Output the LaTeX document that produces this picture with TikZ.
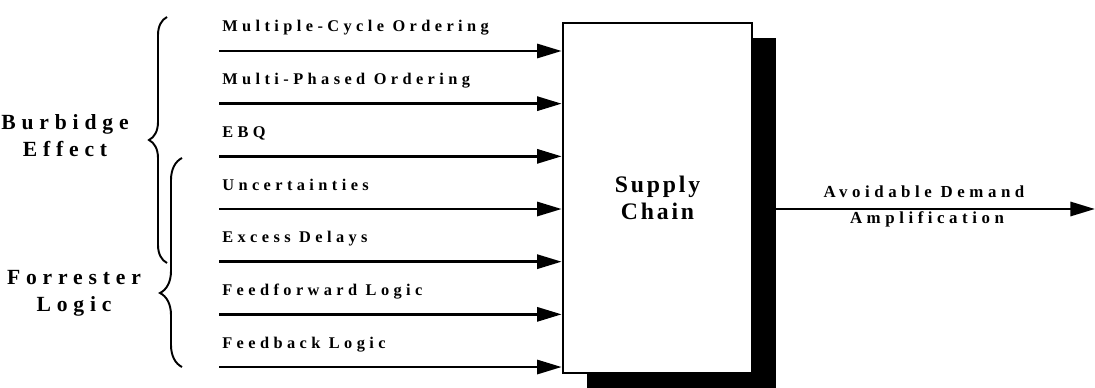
\documentclass[tikz,border=0pt]{standalone}
\usepackage{fontspec}
\setmainfont{Liberation Serif}
\newfontfamily\spaced[LetterSpace=27]{Liberation Serif}
\newfontfamily\chainfont[LetterSpace=12]{Liberation Serif}
\usetikzlibrary{arrows.meta, positioning, calc, shadows, decorations.pathreplacing}

\begin{document}
\begin{tikzpicture}[
	x=0.02cm, y=-0.02cm,
	supply/.style={rectangle, draw=black, line width=1.5pt, fill=white, minimum width=3.78cm, minimum height=7cm, inner sep=0pt, align=center,
		font=\chainfont\bfseries\fontsize{13.5}{15}\selectfont,
		drop shadow={shadow xshift=0.48cm, shadow yshift=-0.3cm, fill=black, opacity=1}},
	arrow/.style={-{Triangle[length=14pt, width=8pt]}, line width=1.6pt},
	cause/.style={anchor=base west, inner sep=0pt, font=\spaced\bfseries\fontsize{9.3}{11}\selectfont},
	effect/.style={anchor=base, inner sep=0pt, font=\spaced\bfseries\fontsize{9.6}{11}\selectfont},
	group/.style={align=center, inner sep=0pt, font=\spaced\bfseries\fontsize{12.3}{15.3}\selectfont},
	bracket/.style={decorate, decoration={brace, amplitude=0.36cm}, line width=1.1pt}
]
\useasboundingbox (0,0) rectangle (1095,388);

% Supply chain block with its shadow
\node[supply] (sc) at (657.5,198) {Supply\\Chain};

% Input causes
\foreach \txt [count=\i] in {Multiple-Cycle Ordering, Multi-Phased Ordering, EBQ, Uncertainties, Excess Delays, Feedforward Logic, Feedback Logic} {
	\pgfmathsetmacro{\ypos}{51+52.67*(\i-1)}
	\coordinate (in\i) at (219,\ypos);
	\draw[arrow] (in\i) -- (in\i -| sc.west);
	\node[cause] (lab\i) at (222,\ypos-19) {\txt};
}

% Output
\coordinate (out) at (1095,209);
\draw[arrow] (sc.east |- out) -- (out);
\node[effect] (dem) at (924,198) {Avoidable Demand};
\node[effect] (amp) at (927,224) {Amplification};

% Braces grouping the causes
\coordinate (bt) at (167,17);
\coordinate (bb) at (167,263);
\draw[bracket] (bb) -- (bt);
\node[group] (burb) at (65,136) {Burbidge\\Effect};

\coordinate (ft) at (182,158);
\coordinate (fb) at (182,367);
\draw[bracket, decoration={amplitude=0.44cm, aspect=0.354}] (fb) -- (ft);
\node[group] (forr) at (74,293) {Forrester\\Logic};

\end{tikzpicture}
\end{document}
